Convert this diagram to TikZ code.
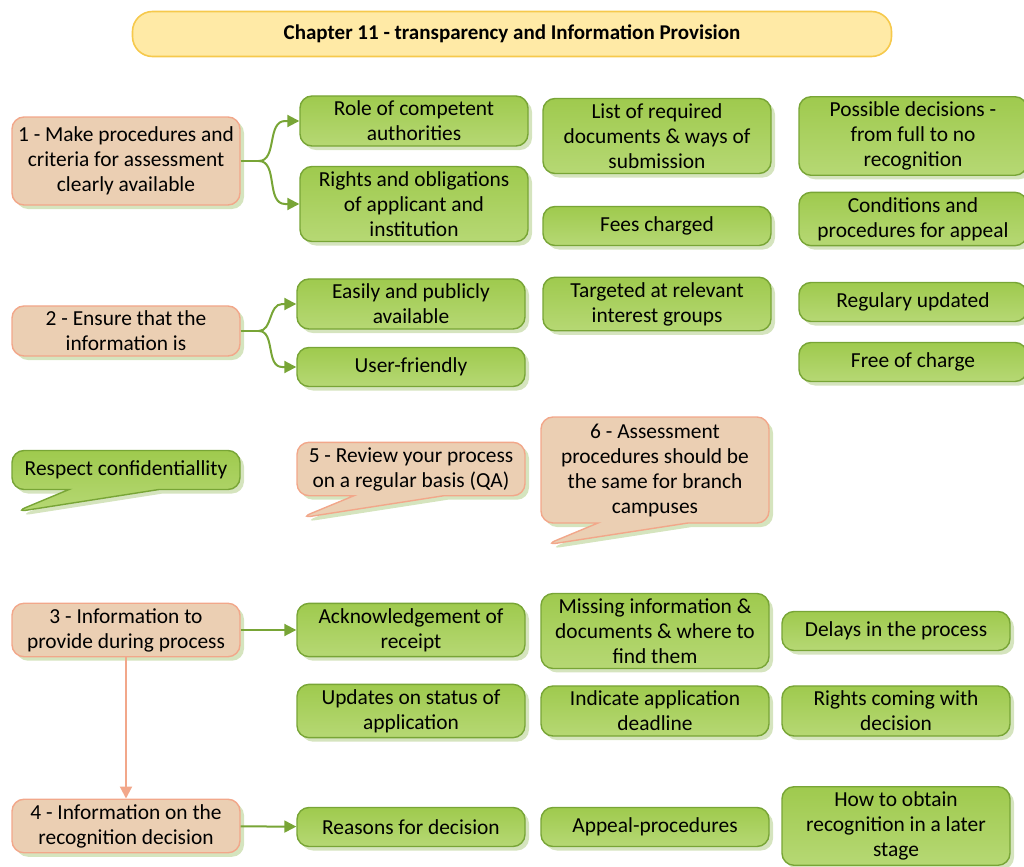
\documentclass[tikz,border=0pt]{standalone}
\usepackage{fontspec}
\setmainfont{Carlito}
\usetikzlibrary{shapes.callouts,shadows,arrows.meta,calc}

\definecolor{peachfill}{HTML}{EBCFB3}
\definecolor{peachline}{HTML}{F2A78A}
\definecolor{greenfill}{HTML}{9FCA4E}
\definecolor{greenfill2}{HTML}{B6D874}
\definecolor{greenline}{HTML}{78A536}
\definecolor{shadowgreen}{HTML}{D5E4BE}
\definecolor{titlefill}{HTML}{FFEAA6}
\definecolor{titleline}{HTML}{F6C94C}

\begin{document}
\begin{tikzpicture}[x=0.5pt, y=-0.5pt,
    box/.style={rectangle, rounded corners=6pt, align=center, minimum width=114pt, minimum height=19.5pt, inner sep=2.5pt, line width=0.7pt, font=\fontsize{10.7}{12.5}\selectfont, drop shadow={fill=shadowgreen, shadow xshift=2pt, shadow yshift=-2pt, opacity=1}},
    item/.style={box, draw=greenline, top color=greenfill, bottom color=greenfill2},
    task/.style={box, draw=peachline, fill=peachfill},
    note/.style={rectangle callout, callout pointer width=45pt},
    header/.style={rectangle, rounded corners=10pt, draw=titleline, fill=titlefill, line width=0.8pt, minimum width=379.5pt, minimum height=22.5pt, font=\fontsize{10.5}{12}\selectfont\bfseries},
    link/.style={draw=greenline, line width=1pt},
    flow/.style={draw=peachline, line width=1pt, -{Triangle[length=6pt,width=6pt]}}]
    \useasboundingbox (0,0) rectangle (1024,867);

    \node[header] (title) at (512,34) {Chapter 11 - transparency and Information Provision};

    \node[task, minimum height=44pt] (step1) at (126,161) {1 - Make procedures and\\criteria for assessment\\clearly available};
    \node[item] (role) at (414,121) {Role of competent\\authorities};
    \node[item] (rights) at (414,204) {Rights and obligations\\of applicant and\\institution};
    \node[item] (docs) at (657,136) {List of required\\documents \& ways of\\submission};
    \node[item] (fees) at (657,226) {Fees charged};
    \node[item] (decisions) at (913,136) {Possible decisions -\\from full to no\\recognition};
    \node[item] (appeal) at (913,219) {Conditions and\\procedures for appeal};

    \node[task] (step2) at (126,331) {2 - Ensure that the\\information is};
    \node[item] (easy) at (411,304) {Easily and publicly\\available};
    \node[item] (friendly) at (411,367) {User-friendly};
    \node[item] (targeted) at (657,304) {Targeted at relevant\\interest groups};
    \node[item] (updated) at (913,302) {Regulary updated};
    \node[item] (free) at (913,362) {Free of charge};

    \node[item, note, callout absolute pointer={(15,512)}] (confid) at (126,470) {Respect confidentiallity};
    \node[task, note, callout absolute pointer={(300,518)}] (review) at (411,469) {5 - Review your process\\on a regular basis (QA)};
    \node[task, note, minimum height=53pt, callout absolute pointer={(545,545)}] (branch) at (655,470) {6 - Assessment\\procedures should be\\the same for branch\\campuses};

    \node[task] (step3) at (126,630) {3 - Information to\\provide during process};
    \node[item] (receipt) at (411,630) {Acknowledgement of\\receipt};
    \node[item] (missing) at (655,631) {Missing information \&\\documents \& where to\\find them};
    \node[item] (delays) at (896,631) {Delays in the process};
    \node[item] (status) at (411,711) {Updates on status of\\application};
    \node[item] (deadline) at (655,711) {Indicate application\\deadline};
    \node[item] (coming) at (896,711) {Rights coming with\\decision};

    \node[task] (step4) at (126,826) {4 - Information on the\\recognition decision};
    \node[item] (reasons) at (411,827) {Reasons for decision};
    \node[item] (procs) at (655,827) {Appeal-procedures};
    \node[item] (later) at (896,826) {How to obtain\\recognition in a later\\stage};

    \draw[link] (step1.east) -- ++(18,0) coordinate (fork1);
    \draw[link, -{Triangle[length=6pt,width=6pt]}] (fork1) to[out=0,in=180] ($(role.west)+(-14,0)$) -- (role.west);
    \draw[link, -{Triangle[length=6pt,width=6pt]}] (fork1) to[out=0,in=180] ($(rights.west)+(-14,0)$) -- (rights.west);
    \draw[link] (step2.east) -- ++(18,0) coordinate (fork2);
    \draw[link, -{Triangle[length=6pt,width=6pt]}] (fork2) to[out=0,in=180] ($(easy.west)+(-14,0)$) -- (easy.west);
    \draw[link, -{Triangle[length=6pt,width=6pt]}] (fork2) to[out=0,in=180] ($(friendly.west)+(-14,0)$) -- (friendly.west);
    \draw[link, -{Triangle[length=6pt,width=6pt]}] (step3) -- (receipt);
    \draw[link, -{Triangle[length=6pt,width=6pt]}] (step4) -- (reasons);
    \draw[flow] (step3) -- (step4);
\end{tikzpicture}
\end{document}
